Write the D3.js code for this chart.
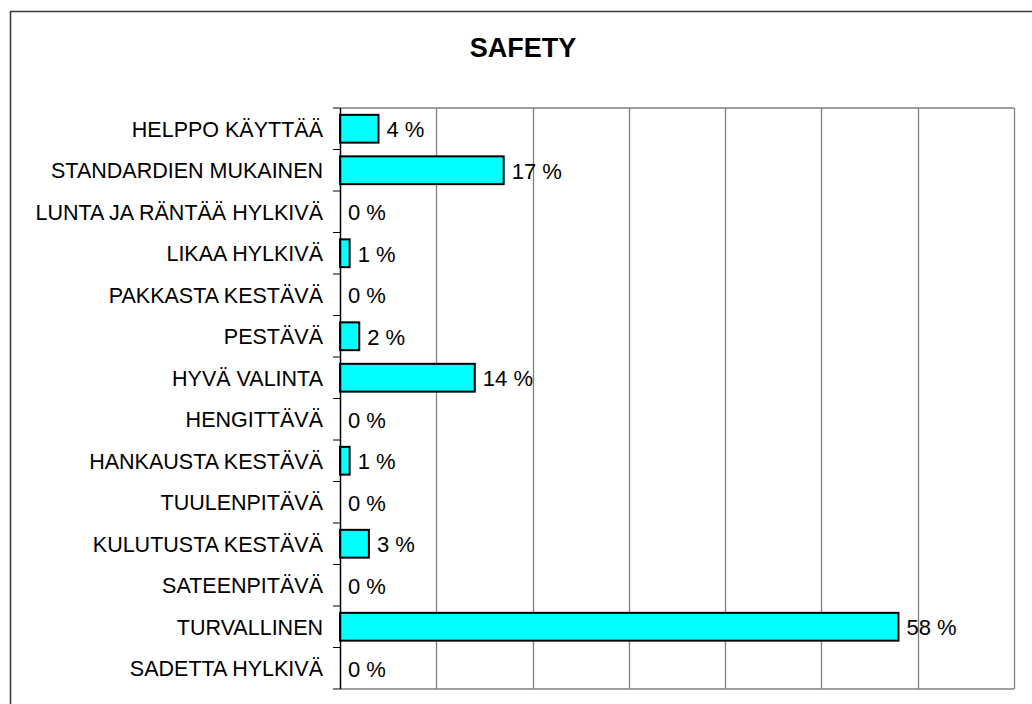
<!DOCTYPE html>
<html>
<head>
<meta charset="utf-8">
<script src="https://cdn.jsdelivr.net/npm/d3@7"></script>
<style>
  body { margin: 0; background: #fff; }
  text { font-family: "Liberation Sans", Arial, sans-serif; }
</style>
</head>
<body>
<div id="chart"></div>
<script>
var categories = ["HELPPO KÄYTTÄÄ", "STANDARDIEN MUKAINEN", "LUNTA JA RÄNTÄÄ HYLKIVÄ", "LIKAA HYLKIVÄ",
  "PAKKASTA KESTÄVÄ", "PESTÄVÄ", "HYVÄ VALINTA", "HENGITTÄVÄ", "HANKAUSTA KESTÄVÄ", "TUULENPITÄVÄ",
  "KULUTUSTA KESTÄVÄ", "SATEENPITÄVÄ", "TURVALLINEN", "SADETTA HYLKIVÄ"];
var values = [4, 17, 0, 1, 0, 2, 14, 0, 1, 0, 3, 0, 58, 0];
var xTicks = [0, 10, 20, 30, 40, 50, 60, 70];
var title = "SAFETY";

var W = 1032, H = 704;
var margin = {top: 108, right: 18, bottom: 15, left: 340},
    width = W - margin.left - margin.right,
    height = H - margin.top - margin.bottom;

var svg = d3.select("#chart").append("svg")
    .attr("width", W)
    .attr("height", H);

// outer frame (only left and top edges show)
svg.append("path")
    .attr("d", "M10.5,704 L10.5,11.5 L1032,11.5")
    .style("fill", "none")
    .style("stroke", "#3a3a3a")
    .style("stroke-width", 1.6);

svg.append("text")
    .attr("x", 523)
    .attr("y", 56.5)
    .style("text-anchor", "middle")
    .style("font-weight", "bold")
    .style("font-size", "27px")
    .text(title);

var g = svg.append("g")
    .attr("transform", "translate(" + margin.left + "," + margin.top + ")");

var x = d3.scaleLinear().domain([0, 70]).range([0, width]);
var y = d3.scaleBand().domain(categories).range([0, height]).paddingInner(0.33).paddingOuter(0.165);

var rows = values.map(function(v, i) { return {c: categories[i], v: v}; });

// gridlines
g.selectAll(".grid")
    .data(xTicks.slice(1))
  .enter().append("line")
    .attr("class", "grid")
    .attr("x1", function(d) { return Math.round(x(d)) + 0.5; })
    .attr("x2", function(d) { return Math.round(x(d)) + 0.5; })
    .attr("y1", 0)
    .attr("y2", height)
    .style("stroke", "#808080")
    .style("stroke-width", 1.3);

// top and bottom edges of plot
g.append("line").attr("x1", 0).attr("x2", width).attr("y1", 0).attr("y2", 0)
    .style("stroke", "#808080").style("stroke-width", 1.6);
g.append("line").attr("x1", 0).attr("x2", width).attr("y1", height).attr("y2", height)
    .style("stroke", "#808080").style("stroke-width", 1.6);

// tick marks between categories
var step = height / categories.length;
g.selectAll(".ytick")
    .data(d3.range(categories.length + 1))
  .enter().append("line")
    .attr("class", "ytick")
    .attr("x1", -7)
    .attr("x2", 0)
    .attr("y1", function(d) { return d * step; })
    .attr("y2", function(d) { return d * step; })
    .style("stroke", "#000")
    .style("stroke-width", 1);

g.selectAll(".cat")
    .data(categories)
  .enter().append("text")
    .attr("class", "cat")
    .attr("x", -17)
    .attr("y", function(d) { return y(d) + y.bandwidth() / 2; })
    .attr("dy", "0.38em")
    .style("text-anchor", "end")
    .style("font-size", "21.5px")
    .text(function(d) { return d; });

// bars
g.selectAll(".bar")
    .data(rows.filter(function(d) { return d.v > 0; }))
  .enter().append("rect")
    .attr("class", "bar")
    .attr("x", x(0))
    .attr("y", function(d) { return y(d.c); })
    .attr("width", function(d) { return x(d.v) - x(0); })
    .attr("height", y.bandwidth())
    .style("fill", "#00ffff")
    .style("stroke", "#000")
    .style("stroke-width", 2);

// axis line
g.append("line").attr("x1", 0.5).attr("x2", 0.5).attr("y1", 0).attr("y2", height)
    .style("stroke", "#000").style("stroke-width", 1.5);

// value labels
g.selectAll(".val")
    .data(rows)
  .enter().append("text")
    .attr("class", "val")
    .attr("x", function(d) { return x(d.v) + 8; })
    .attr("y", function(d) { return y(d.c) + y.bandwidth() / 2; })
    .attr("dy", "0.38em")
    .style("font-size", "22px")
    .text(function(d) { return d.v + " %"; });
</script>
</body>
</html>
